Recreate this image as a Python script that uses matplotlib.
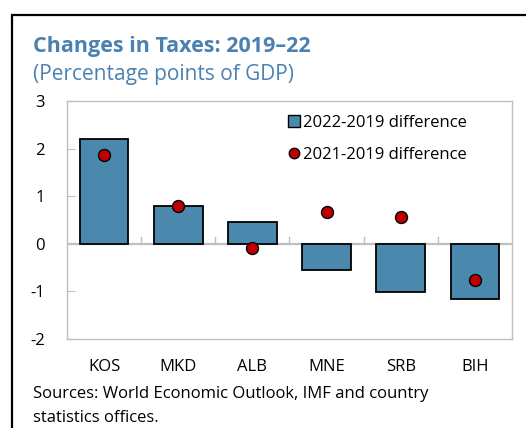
import matplotlib
matplotlib.use("Agg")
import matplotlib.pyplot as plt
from matplotlib.lines import Line2D

plt.rcParams['font.family'] = ['Open Sans', 'DejaVu Sans']

categories = ["KOS", "MKD", "ALB", "MNE", "SRB", "BIH"]
diff_2022_2019 = [2.2, 0.80, 0.45, -0.54, -1.02, -1.17]
diff_2021_2019 = [1.86, 0.80, -0.08, 0.66, 0.56, -0.77]
y_ticks = [-2, -1, 0, 1, 2, 3]

title = "Changes in Taxes: 2019\u201322"
subtitle = "(Percentage points of GDP)"
source_lines = ["Sources: World Economic Outlook, IMF and country",
                "statistics offices."]

bar_color = "#4a89ad"
dot_color = "#c00000"
title_color = "#4a81b0"
grey = "#bfbfbf"

W, H = 526, 428
fig = plt.figure(figsize=(W / 100, H / 100), dpi=100)

# outer frame (only top and left edges visible in the crop)
fig.add_artist(Line2D([11.8 / W, 11.8 / W, 1.01], [-0.01, 1 - 14.8 / H, 1 - 14.8 / H],
                      transform=fig.transFigure, color="black", linewidth=1.6,
                      solid_joinstyle="miter"))

ax = fig.add_axes([67 / W, 1 - 339 / H, (512 - 67) / W, (339 - 101) / H])
x = list(range(len(categories)))
ax.bar(x, diff_2022_2019, width=0.655, color=bar_color, edgecolor="black",
       linewidth=1.3, zorder=3, label="2022-2019 difference")
ax.scatter(x, diff_2021_2019, s=74, color=dot_color, edgecolor="black",
           linewidth=1.0, zorder=4, label="2021-2019 difference")

ax.set_xlim(-0.5, len(categories) - 0.5)
ax.set_ylim(-2, 3)
ax.set_yticks(y_ticks)
ax.set_yticklabels([str(v) for v in y_ticks], fontsize=12)
ax.axhline(0, color=grey, linewidth=1.6, zorder=2)
# category boundary ticks on zero line
for b in range(1, len(categories)):
    ax.plot([b - 0.5, b - 0.5], [0, 0.15], color=grey, linewidth=1.0, zorder=2)

ax.set_xticks(x)
ax.set_xticklabels(categories, fontsize=12)
ax.tick_params(axis="x", length=0, pad=14.5)
ax.tick_params(axis="y", direction="in", length=6, color=grey, pad=16)
for s in ax.spines.values():
    s.set_color(grey)
    s.set_linewidth(1.0)

handles = [
    Line2D([0], [0], marker="s", linestyle="none", markersize=9,
           markerfacecolor=bar_color, markeredgecolor="black", markeredgewidth=1.0),
    Line2D([0], [0], marker="o", linestyle="none", markersize=7.5,
           markerfacecolor=dot_color, markeredgecolor="black", markeredgewidth=1.0),
]
ax.legend(handles, ["2022-2019 difference", "2021-2019 difference"],
          loc="upper left", bbox_to_anchor=((276 - 67) / (512 - 67), 1 - 2 / 238),
          frameon=False, fontsize=12, handlelength=0.8, handletextpad=0.15,
          labelspacing=0.98, borderpad=0.2)

fig.text(33 / W, 1 - 52 / H, title, fontsize=15.5, fontweight="bold",
         color=title_color, va="baseline")
fig.text(33 / W, 1 - 80 / H, subtitle, fontsize=15, color=title_color,
         va="baseline")
fig.text(33 / W, 1 - 398 / H, source_lines[0], fontsize=12, color="black",
         va="baseline")
fig.text(33 / W, 1 - 421.5 / H, source_lines[1], fontsize=12, color="black",
         va="baseline")

fig.savefig("out.png", dpi=100)
